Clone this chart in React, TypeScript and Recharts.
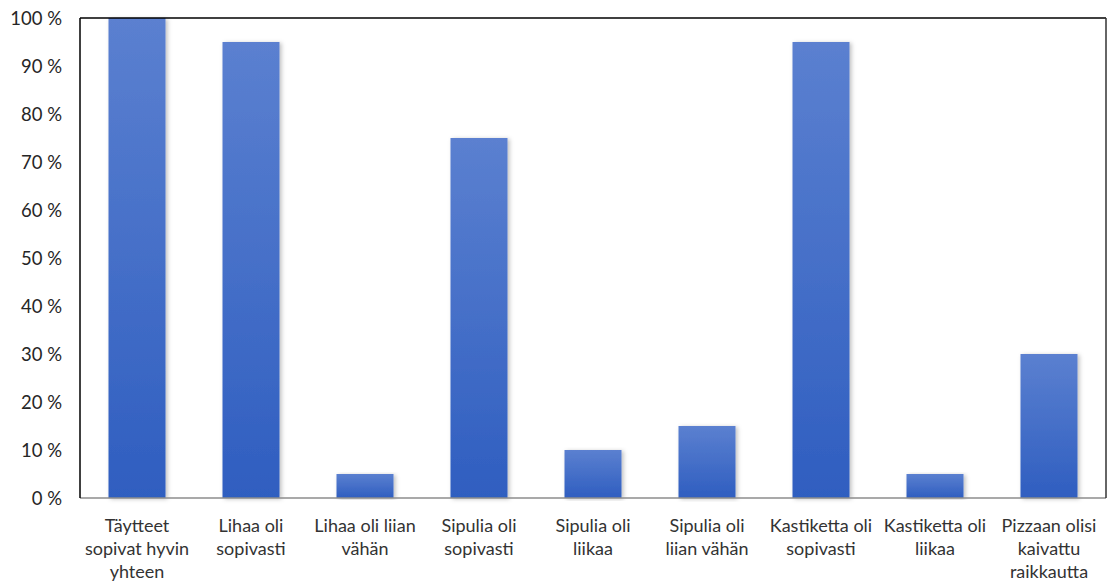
import { BarChart, Bar, XAxis, YAxis, ReferenceLine } from 'recharts'

// vastausvaihtoehdot, rivinvaihdot kuten akselilla
const categories = [
  'Täytteet\nsopivat hyvin\nyhteen',
  'Lihaa oli\nsopivasti',
  'Lihaa oli liian\nvähän',
  'Sipulia oli\nsopivasti',
  'Sipulia oli\nliikaa',
  'Sipulia oli\nliian vähän',
  'Kastiketta oli\nsopivasti',
  'Kastiketta oli\nliikaa',
  'Pizzaan olisi\nkaivattu\nraikkautta',
]

const shares = [100, 95, 5, 75, 10, 15, 95, 5, 30]

const yTicks = [0, 10, 20, 30, 40, 50, 60, 70, 80, 90, 100]

const data = categories.map((name, i) => ({ name, share: shares[i] }))

const font = 'Lato, "Open Sans", sans-serif'

function CategoryTick({ x, y, payload }: any) {
  const lines = String(payload.value).split('\n')
  return (
    <text
      x={x}
      y={y}
      textAnchor="middle"
      fill="#333"
      fontSize={18}
      fontFamily={font}
    >
      {lines.map((line, i) => (
        <tspan key={i} x={x} dy={i === 0 ? 26 : 23}>
          {line}
        </tspan>
      ))}
    </text>
  )
}

export default function App() {
  return (
    <div style={{ position: 'absolute', left: 0, top: 0, background: '#fff' }}>
      <BarChart
        width={1111}
        height={587}
        data={data}
        margin={{ top: 18, right: 0, left: 0, bottom: 0 }}
        barCategoryGap="25%"
      >
        <defs>
          <linearGradient id="barFill" x1="0" y1="0" x2="0" y2="1">
            <stop offset="0%" stopColor="#5b80d0" />
            <stop offset="100%" stopColor="#2f5ec0" />
          </linearGradient>
          <filter id="barShadow" x="-20%" y="-5%" width="140%" height="110%">
            <feDropShadow dx="2" dy="1" stdDeviation="2" floodColor="#000" floodOpacity="0.25" />
          </filter>
        </defs>
        <XAxis
          dataKey="name"
          interval={0}
          height={89}
          tickLine={false}
          axisLine={{ stroke: '#8c8c8c', strokeWidth: 1.5 }}
          tick={<CategoryTick />}
        />
        <YAxis
          domain={[0, 100]}
          ticks={yTicks}
          width={80}
          tickSize={0}
          tickMargin={18}
          tickFormatter={(v) => `${v} %`}
          axisLine={{ stroke: '#000', strokeWidth: 1.5 }}
          tick={{ fill: '#262626', fontSize: 18.5, fontFamily: font }}
        />
        <YAxis
          yAxisId="frame"
          orientation="right"
          domain={[0, 100]}
          width={5}
          tick={false}
          tickLine={false}
          axisLine={{ stroke: '#333', strokeWidth: 1.5 }}
        />
        <ReferenceLine y={100} stroke="#000" strokeWidth={1.5} />
        <Bar
          dataKey="share"
          fill="url(#barFill)"
          filter="url(#barShadow)"
          isAnimationActive={false}
        />
      </BarChart>
    </div>
  )
}
